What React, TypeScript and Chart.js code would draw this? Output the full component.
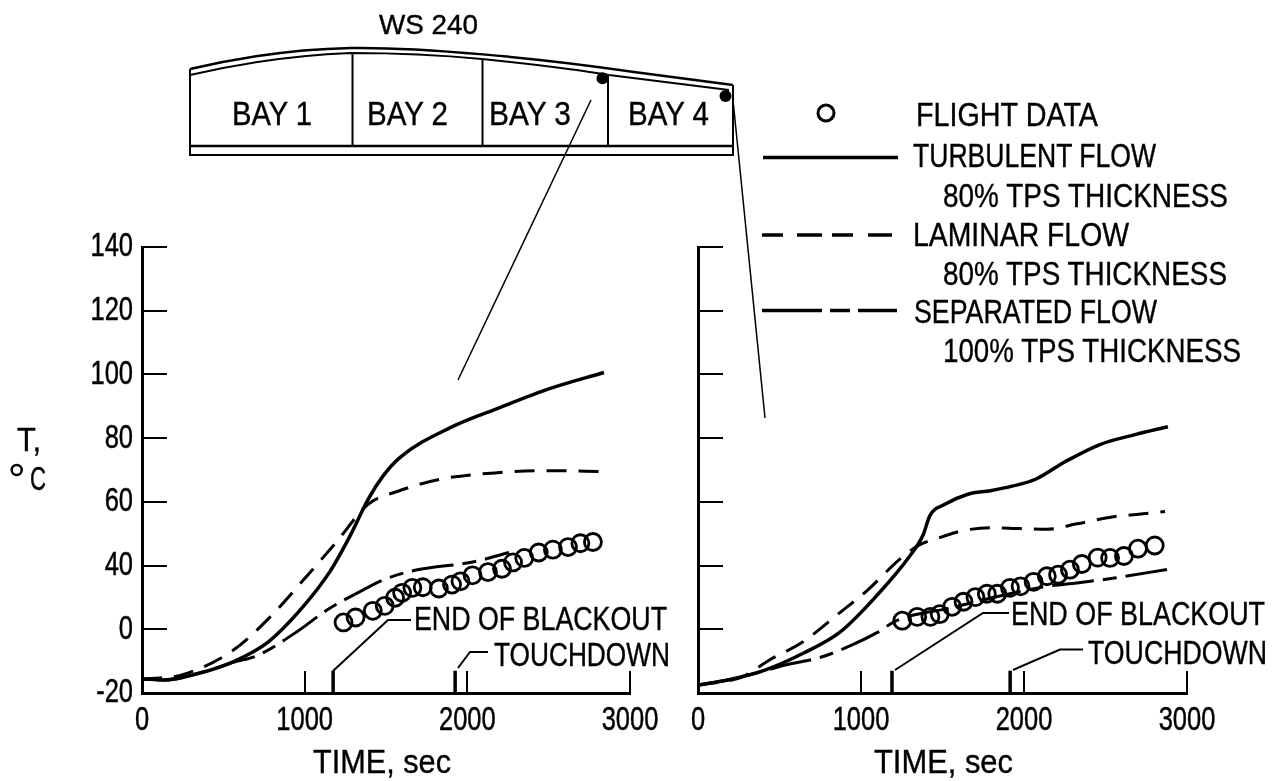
import React, { useEffect, useRef } from "react";
import { Chart, registerables } from "chart.js";

Chart.register(...registerables);

const xTicks = [0, 1000, 2000, 3000];
// The printed axis goes ... 60, 40, 0, -20: the label 20 is absent, so 40 sits one step above 0.
const yTickLabels = ["-20", "0", "40", "60", "80", "100", "120", "140"];

const leftTurbT = [0, 135, 350, 560, 775, 985, 1155, 1280, 1390, 1480, 1585, 1895, 2200, 2510, 2840];
const leftTurbY = [-15.6, -15.9, -13.8, -10.2, -4, 13.6, 36.2, 49.4, 60.8, 68, 73.9, 83.3, 89.6, 95.6, 100.6];
const leftLamT = [0, 245, 560, 775, 985, 1195, 1390, 1578, 1832, 2200, 2510, 2840];
const leftLamY = [-15.6, -14.3, -6.6, 6.4, 30.1, 47.4, 59.2, 63.4, 67.1, 69.2, 69.8, 69.5];
const leftSepT = [0, 135, 350, 560, 710, 963, 1130, 1365, 1513, 1685, 2042, 2256];
const leftSepY = [-15.6, -15.9, -13.8, -10.4, -8.2, -0.4, 11.6, 25, 32.2, 37.2, 41.2, 44.1];
const leftFlightT = [1239, 1313, 1419, 1492, 1556, 1599, 1662, 1726, 1825, 1906, 1958, 2032, 2127, 2213, 2281, 2350, 2439, 2526, 2619, 2695, 2772];
const leftFlightY = [4.3, 7.4, 11.6, 14.7, 19.8, 22.9, 26, 26.4, 25.6, 28.1, 30.1, 33.9, 35.9, 38, 41, 42.4, 44.1, 45, 45.8, 47, 47.4];

const rightTurbT = [0, 182, 411, 642, 871, 1104, 1288, 1380, 1423, 1518, 1656, 1794, 1933, 2071, 2252, 2466, 2681, 2883];
const rightTurbY = [-17.5, -15.9, -12.8, -7.6, -0.9, 22, 42.2, 49.5, 55.7, 59.3, 62.4, 63.5, 65, 67.1, 72.6, 78, 81.1, 83.6];
const rightLamT = [0, 274, 436, 642, 871, 1034, 1242, 1356, 1495, 1610, 1794, 1979, 2140, 2325, 2532, 2717, 2865];
const rightLamY = [-17.5, -14.9, -9.7, -4, 10.5, 24, 42.2, 46.4, 49, 50.8, 51.9, 51.6, 51.4, 53.1, 55.2, 56.2, 57];
const rightSepT = [0, 182, 411, 527, 758, 942, 1104, 1215, 1566, 1900, 2141, 2325, 2555, 2890];
const rightSepY = [-17.5, -15.9, -13, -11.3, -8.7, -5, -0.9, 5.3, 13.8, 22, 27, 29.1, 32.2, 37.8];
const rightFlightT = [1253, 1345, 1426, 1483, 1559, 1629, 1702, 1772, 1836, 1914, 1979, 2059, 2140, 2209, 2282, 2355, 2452, 2528, 2613, 2699, 2802];
const rightFlightY = [5.4, 7.8, 7.8, 9.5, 14.1, 17.3, 20.2, 22.3, 22.3, 26, 27, 29.8, 33.3, 34.3, 37.4, 40.5, 42.5, 42.4, 43, 45.3, 46.3];

const leftEventTimes = [1175, 1925];
const rightEventTimes = [1190, 1915];
const eventMarkTop = -13;

const FONT = '"Liberation Sans", sans-serif';

// Reading on the printed axis to a position on its evenly spaced ticks.
const axisPos = (v: number) => (v <= 0 ? v : v <= 40 ? v / 2 : v - 20);
const pts = (t: number[], y: number[]) => t.map((x, i) => ({ x, y: axisPos(y[i]) }));

function line(label: string, t: number[], y: number[], dash: number[], width = 3) {
  return {
    label,
    data: pts(t, y),
    showLine: true,
    borderColor: "#000",
    borderWidth: width,
    borderDash: dash,
    pointRadius: 0,
    cubicInterpolationMode: "monotone" as const,
    fill: false,
  };
}

function eventMarks(times: number[]) {
  return times.map((t, i) => ({
    label: i === 0 ? "End of blackout" : "Touchdown",
    data: [
      { x: t, y: axisPos(-20) },
      { x: t, y: axisPos(eventMarkTop) },
    ],
    showLine: true,
    borderColor: "#000",
    borderWidth: 3.5,
    pointRadius: 0,
  }));
}

type Panel = {
  left: number;
  width: number;
  axisLeft: number;
  axisRight: number;
  showYLabels: boolean;
  datasets: any[];
};

const TOP = 200;
const H = 581;
const PLOT_TOP = 247;
const PLOT_BOTTOM = 693;
const TICK_FONT_SIZE = 34;
const TICK_SQUEEZE = 0.75;

function squeezedLabel(ctx: CanvasRenderingContext2D, label: string, x: number, y: number, align: CanvasTextAlign) {
  ctx.save();
  ctx.translate(x, y);
  ctx.scale(TICK_SQUEEZE, 1);
  ctx.textAlign = align;
  ctx.lineWidth = 0.5;
  ctx.strokeStyle = "#000";
  ctx.fillText(label, 0, 0);
  ctx.strokeText(label, 0, 0);
  ctx.restore();
}

function Plot({ panel }: { panel: Panel }) {
  const ref = useRef<HTMLCanvasElement | null>(null);
  useEffect(() => {
    if (!ref.current) return;
    const tickLabels = {
      id: "tickLabels",
      afterDraw(chart: any) {
        const { ctx, scales } = chart;
        ctx.save();
        ctx.fillStyle = "#000";
        ctx.font = `${TICK_FONT_SIZE}px ${FONT}`;
        ctx.textBaseline = "middle";
        scales.x.ticks.forEach((t: any, i: number) => {
          squeezedLabel(ctx, String(t.label), scales.x.getPixelForTick(i), scales.x.top + 28, "center");
        });
        if (panel.showYLabels) {
          scales.y.ticks.forEach((t: any, i: number) => {
            squeezedLabel(ctx, String(t.label), scales.y.right - 9, scales.y.getPixelForTick(i), "right");
          });
        }
        ctx.restore();
      },
    };
    const chart = new Chart(ref.current, {
      type: "scatter",
      data: { datasets: panel.datasets },
      plugins: [tickLabels],
      options: {
        animation: false,
        responsive: false,
        layout: {
          padding: { top: PLOT_TOP - TOP, right: panel.width - (panel.axisRight - panel.left), left: 0, bottom: 0 },
        },
        plugins: { legend: { display: false }, tooltip: { enabled: false } },
        scales: {
          x: {
            type: "linear",
            min: 0,
            max: 3000,
            afterFit: (s: any) => {
              s.height = TOP + H - PLOT_BOTTOM;
              s.paddingLeft = 0;
              s.paddingRight = 0;
            },
            border: { display: true, color: "#000", width: 3 },
            grid: { drawOnChartArea: false, drawTicks: true, tickLength: -22, color: "#000", lineWidth: 2 },
            afterBuildTicks: (s: any) => {
              s.ticks = xTicks.map((value) => ({ value }));
            },
            ticks: { display: false, autoSkip: false, maxRotation: 0, callback: (v: any) => String(v) },
          },
          y: {
            type: "linear",
            min: -20,
            max: 120,
            afterFit: (s: any) => {
              s.width = panel.axisLeft - panel.left;
              s.paddingTop = 0;
              s.paddingBottom = 0;
            },
            border: { display: true, color: "#000", width: 3 },
            grid: { drawOnChartArea: false, drawTicks: true, tickLength: -25, color: "#000", lineWidth: 2 },
            ticks: { display: false, stepSize: 20, callback: (_v: any, i: number) => yTickLabels[i] },
          },
        },
      } as any,
    });
    return () => chart.destroy();
  }, [panel]);
  return (
    <canvas
      ref={ref}
      width={panel.width}
      height={H}
      style={{ position: "absolute", left: panel.left, top: TOP, width: panel.width, height: H }}
    />
  );
}

const leftPanel: Panel = {
  left: 0,
  width: 680,
  axisLeft: 142,
  axisRight: 630,
  showYLabels: true,
  datasets: [
    line("Turbulent flow", leftTurbT, leftTurbY, [], 3.5),
    line("Laminar flow", leftLamT, leftLamY, [20, 12]),
    line("Separated flow", leftSepT, leftSepY, [42, 9, 14, 9]),
    {
      label: "Flight data",
      data: pts(leftFlightT, leftFlightY),
      pointRadius: 8.5,
      pointBorderWidth: 2.8,
      pointBorderColor: "#000",
      pointBackgroundColor: "rgba(0,0,0,0)",
    },
    ...eventMarks(leftEventTimes),
  ],
};

const rightPanel: Panel = {
  left: 640,
  width: 639,
  axisLeft: 698,
  axisRight: 1187,
  showYLabels: false,
  datasets: [
    line("Turbulent flow", rightTurbT, rightTurbY, [], 3.5),
    line("Laminar flow", rightLamT, rightLamY, [20, 12]),
    line("Separated flow", rightSepT, rightSepY, [42, 9, 14, 9]),
    {
      label: "Flight data",
      data: pts(rightFlightT, rightFlightY),
      pointRadius: 8.5,
      pointBorderWidth: 2.8,
      pointBorderColor: "#000",
      pointBackgroundColor: "rgba(0,0,0,0)",
    },
    ...eventMarks(rightEventTimes),
  ],
};

function T({ x, y, w, s = 34, children }: { x: number; y: number; w: number; s?: number; children: string }) {
  return (
    <text
      x={x}
      y={y}
      textLength={w}
      lengthAdjust="spacingAndGlyphs"
      fontSize={s}
      fontFamily={FONT}
      fill="#000"
      stroke="#000"
      strokeWidth={0.4}
    >
      {children}
    </text>
  );
}

function Overlay() {
  const st = { fill: "none", stroke: "#000" };
  return (
    <svg width={1279} height={781} style={{ position: "absolute", left: 0, top: 0 }}>
      {/* wing section */}
      <path d="M190 69 C 250 55, 300 49, 351 48 C 420 47, 540 58, 634 72 L733 85" {...st} strokeWidth={2.5} />
      <path d="M190 75 C 250 61, 300 55, 351 53 C 400 53, 440 55, 482 59 C 540 65, 580 70, 609 75 L729 90" {...st} strokeWidth={2} />
      <path d="M190 69 V155 H733 V85" {...st} strokeWidth={2} />
      <path d="M190 146 H733" {...st} strokeWidth={2.5} />
      <path d="M352.5 54 V146 M482.5 59 V146 M608 75 V146" {...st} strokeWidth={2} />
      <circle cx={602.5} cy={78.3} r={6} fill="#000" />
      <circle cx={725.5} cy={96} r={6} fill="#000" />
      <path d="M591 100 L458 380 M733.5 105 L765 418" {...st} strokeWidth={1.5} />
      <T x={379} y={34} w={99} s={28}>WS 240</T>
      <T x={232} y={125} w={80}>BAY 1</T>
      <T x={367} y={125} w={81}>BAY 2</T>
      <T x={489} y={125} w={82}>BAY 3</T>
      <T x={628} y={125} w={81}>BAY 4</T>

      {/* legend */}
      <circle cx={826} cy={113} r={8} {...st} strokeWidth={3} />
      <path d="M763 157.5 H898" {...st} strokeWidth={3.5} />
      <path d="M762 235 H783 M797 235 H822 M832 235 H853 M868 235 H892" {...st} strokeWidth={3.5} />
      <path d="M762 310.5 H822 M830 310.5 H850 M858 310.5 H897" {...st} strokeWidth={3.5} />
      <T x={916} y={126} w={182}>FLIGHT DATA</T>
      <T x={913} y={167} w={243}>TURBULENT FLOW</T>
      <T x={943} y={207} w={285}>80% TPS THICKNESS</T>
      <T x={913} y={246} w={216}>LAMINAR FLOW</T>
      <T x={943} y={285} w={284}>80% TPS THICKNESS</T>
      <T x={914} y={323} w={243}>SEPARATED FLOW</T>
      <T x={943} y={362} w={298}>100% TPS THICKNESS</T>

      {/* axis titles */}
      <T x={17} y={451} w={24}>T,</T>
      <circle cx={16.7} cy={470} r={5} {...st} strokeWidth={2.5} />
      <T x={30} y={490} w={16}>C</T>
      <T x={313} y={773} w={138}>TIME, sec</T>
      <T x={874} y={772.5} w={139}>TIME, sec</T>

      {/* event call-outs */}
      <path d="M333 671 L388 620 H411" {...st} strokeWidth={2} />
      <path d="M458 668 L470 652 H488" {...st} strokeWidth={2} />
      <T x={414} y={630} w={253}>END OF BLACKOUT</T>
      <T x={494} y={666} w={176}>TOUCHDOWN</T>
      <path d="M895 670 L983 613 H1009" {...st} strokeWidth={2} />
      <path d="M1013 670 L1060 649.5 H1083" {...st} strokeWidth={2} />
      <T x={1011} y={625} w={254}>END OF BLACKOUT</T>
      <T x={1088} y={664} w={179}>TOUCHDOWN</T>
    </svg>
  );
}

export default function App() {
  return (
    <div style={{ position: "fixed", left: 0, top: 0, width: 1279, height: 781, background: "#fff", overflow: "hidden" }}>
      <Plot panel={leftPanel} />
      <Plot panel={rightPanel} />
      <Overlay />
    </div>
  );
}
